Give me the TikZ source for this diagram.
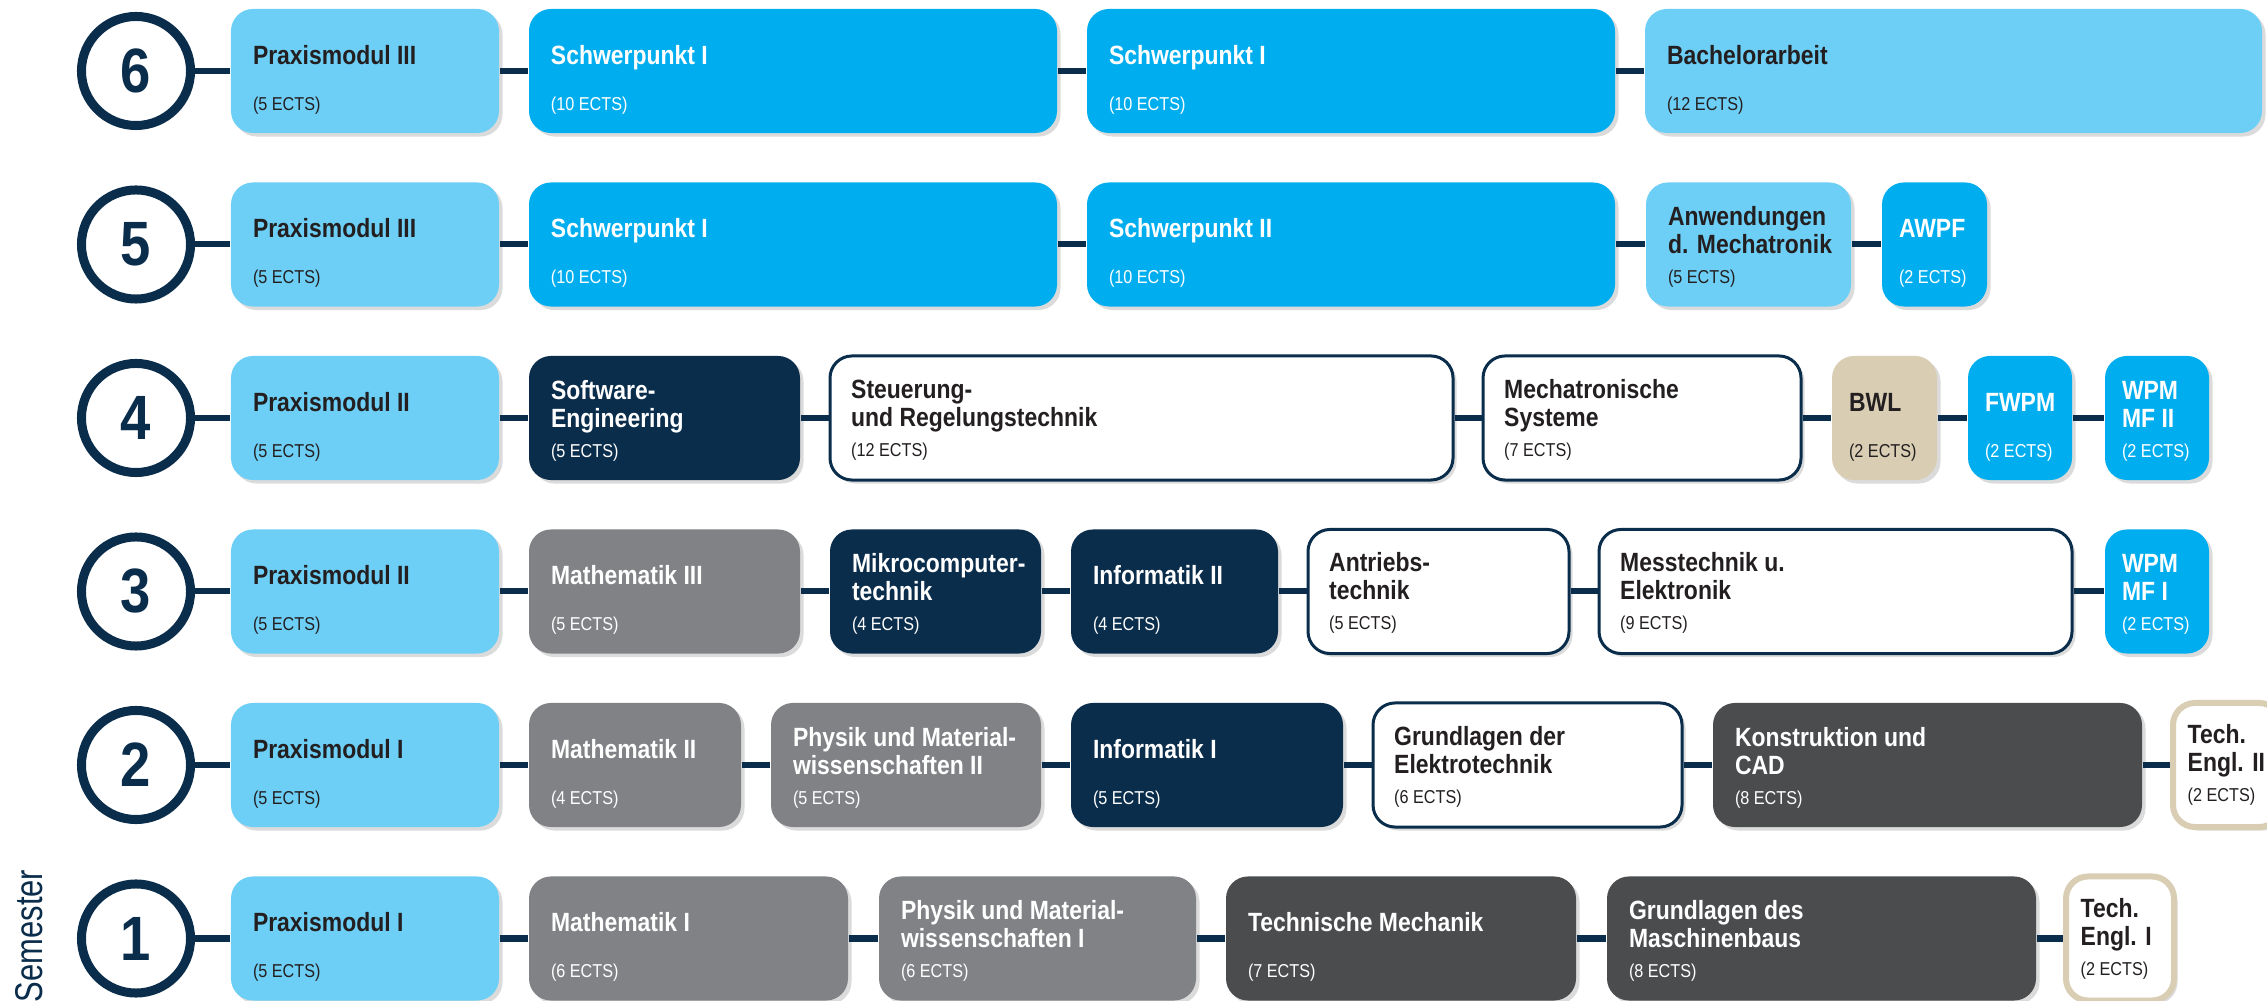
\documentclass[tikz,border=0pt]{standalone}
\usepackage{fontspec}
\setmainfont{Liberation Sans}[FakeStretch=0.87]
\newfontfamily\semfont{Liberation Sans}[FakeStretch=0.8]
\usetikzlibrary{calc,shadows}

\definecolor{hell}{HTML}{6DCFF6}
\definecolor{blau}{HTML}{00AEEF}
\definecolor{marine}{HTML}{0B2D4C}
\definecolor{grau}{HTML}{808285}
\definecolor{dunkel}{HTML}{4B4C4E}
\definecolor{sand}{HTML}{D9CEB4}
\definecolor{schrift}{HTML}{231F20}

\tikzset{
  schatten/.style={drop shadow={shadow xshift=0.035cm, shadow yshift=-0.035cm, fill=black!14, opacity=1}},
  box/.style={rectangle, rounded corners=0.22cm, inner sep=0pt, minimum height=1.24cm, schatten},
  modhell/.style={fill=hell},            modhell txt/.style={text=schrift},
  modblau/.style={fill=blau},            modblau txt/.style={text=white},
  modmarine/.style={fill=marine},        modmarine txt/.style={text=white},
  modgrau/.style={fill=grau},            modgrau txt/.style={text=white},
  moddunkel/.style={fill=dunkel},        moddunkel txt/.style={text=white},
  modsand/.style={fill=sand},            modsand txt/.style={text=schrift},
  modweiss/.style={fill=white, draw=marine, line width=0.03cm}, modweiss txt/.style={text=schrift},
  modengl/.style={fill=white, draw=sand, line width=0.06cm},    modengl txt/.style={text=schrift},
  titel/.style={anchor=base west, inner sep=0pt, align=left, font=\fontsize{7.5}{8}\selectfont\bfseries},
  ects/.style={anchor=base west, inner sep=0pt, font=\fontsize{5.3}{6}\selectfont},
  kreis/.style={circle, draw=marine, line width=0.09cm, fill=white, minimum size=1.09cm, inner sep=0pt,
    text=marine, font=\fontsize{17.8}{18}\selectfont\bfseries, schatten},
  verbinder/.style={draw=marine, line width=0.06cm},
  semester/.style={rotate=90, anchor=base east, inner sep=0pt, text=marine, font=\semfont\fontsize{11}{13}\selectfont}
}

% name, style, x left, x right, y top, title lines, title, ECTS
\newcommand\modul[8]{%
  \pgfmathsetmacro\modx{(#3+#4)/2}%
  \pgfmathsetmacro\modw{(#4-#3)*0.01}%
  \pgfmathsetmacro\modin{(#4-#3)<150 ? 17 : 22}%
  \pgfmathsetmacro\modtt{#6==1 ? 56 : 72}%
  \node[box, #2, minimum width=\modw cm] (#1) at (\modx, #5+62) {};
  \node[titel, #2 txt] (#1-t) at ($(#1.north west)+(\modin,\modtt)$) {#7};
  \node[ects, #2 txt] (#1-e) at ($(#1.north west)+(\modin,102)$) {(#8 ECTS)};
}

\begin{document}
\begin{tikzpicture}[x=0.01cm, y=-0.01cm]
\path[fill=white, use as bounding box] (0,0) rectangle (2267,1001);

\node[semester] (sem) at (42,869) {Semester};

% 6. Semester
\node[kreis] (c6) at (136,71) {6};
\modul{p6}{modhell}{231}{499}{9}{1}{Praxismodul III}{5}
\modul{s6a}{modblau}{529}{1057}{9}{1}{Schwerpunkt I}{10}
\modul{s6b}{modblau}{1087}{1615}{9}{1}{Schwerpunkt I}{10}
\modul{ba}{modhell}{1645}{2262}{9}{1}{Bachelorarbeit}{12}
\draw[verbinder] (c6) -- (p6) (p6) -- (s6a) (s6a) -- (s6b) (s6b) -- (ba);

% 5. Semester
\node[kreis] (c5) at (136,244.5) {5};
\modul{p5}{modhell}{231}{499}{182.5}{1}{Praxismodul III}{5}
\modul{s5a}{modblau}{529}{1057}{182.5}{1}{Schwerpunkt I}{10}
\modul{s5b}{modblau}{1087}{1615}{182.5}{1}{Schwerpunkt II}{10}
\modul{an}{modhell}{1646}{1851}{182.5}{2}{Anwendungen\\d. Mechatronik}{5}
\modul{awpf}{modblau}{1882}{1987}{182.5}{1}{AWPF}{2}
\draw[verbinder] (c5) -- (p5) (p5) -- (s5a) (s5a) -- (s5b) (s5b) -- (an) (an) -- (awpf);

% 4. Semester
\node[kreis] (c4) at (136,418) {4};
\modul{p4}{modhell}{231}{499}{356}{1}{Praxismodul II}{5}
\modul{se}{modmarine}{529}{800}{356}{2}{Software-\\Engineering}{5}
\modul{srt}{modweiss}{830}{1453}{356}{2}{Steuerung-\\und Regelungstechnik}{12}
\modul{ms}{modweiss}{1483}{1801}{356}{2}{Mechatronische\\Systeme}{7}
\modul{bwl}{modsand}{1832}{1937}{356}{1}{BWL}{2}
\modul{fwpm}{modblau}{1968}{2072}{356}{1}{FWPM}{2}
\modul{wpm2}{modblau}{2105}{2209}{356}{2}{WPM\\MF II}{2}
\draw[verbinder] (c4) -- (p4) (p4) -- (se) (se) -- (srt) (srt) -- (ms) (ms) -- (bwl) (bwl) -- (fwpm) (fwpm) -- (wpm2);

% 3. Semester
\node[kreis] (c3) at (136,591.5) {3};
\modul{p3}{modhell}{231}{499}{529.5}{1}{Praxismodul II}{5}
\modul{m3}{modgrau}{529}{800}{529.5}{1}{Mathematik III}{5}
\modul{mc}{modmarine}{830}{1041}{529.5}{2}{Mikrocomputer-\\technik}{4}
\modul{inf2}{modmarine}{1071}{1278}{529.5}{1}{Informatik II}{4}
\modul{at}{modweiss}{1308}{1569}{529.5}{2}{Antriebs-\\technik}{5}
\modul{mt}{modweiss}{1599}{2072}{529.5}{2}{Messtechnik u.\\Elektronik}{9}
\modul{wpm1}{modblau}{2105}{2209}{529.5}{2}{WPM\\MF I}{2}
\draw[verbinder] (c3) -- (p3) (p3) -- (m3) (m3) -- (mc) (mc) -- (inf2) (inf2) -- (at) (at) -- (mt) (mt) -- (wpm1);

% 2. Semester
\node[kreis] (c2) at (136,765) {2};
\modul{p2}{modhell}{231}{499}{703}{1}{Praxismodul I}{5}
\modul{m2}{modgrau}{529}{741}{703}{1}{Mathematik II}{4}
\modul{ph2}{modgrau}{771}{1041}{703}{2}{Physik und Material-\\wissenschaften II}{5}
\modul{inf1}{modmarine}{1071}{1343}{703}{1}{Informatik I}{5}
\modul{ge}{modweiss}{1373}{1682}{703}{2}{Grundlagen der\\Elektrotechnik}{6}
\modul{kc}{moddunkel}{1713}{2142}{703}{2}{Konstruktion und\\CAD}{8}
\modul{te2}{modengl}{2173}{2281}{703}{2}{Tech.\\Engl. II}{2}
\draw[verbinder] (c2) -- (p2) (p2) -- (m2) (m2) -- (ph2) (ph2) -- (inf1) (inf1) -- (ge) (ge) -- (kc) (kc) -- (te2);

% 1. Semester
\node[kreis] (c1) at (136,938.5) {1};
\modul{p1}{modhell}{231}{499}{876.5}{1}{Praxismodul I}{5}
\modul{m1}{modgrau}{529}{848}{876.5}{1}{Mathematik I}{6}
\modul{ph1}{modgrau}{879}{1196}{876.5}{2}{Physik und Material-\\wissenschaften I}{6}
\modul{tm}{moddunkel}{1226}{1576}{876.5}{1}{Technische Mechanik}{7}
\modul{gm}{moddunkel}{1607}{2036}{876.5}{2}{Grundlagen des\\Maschinenbaus}{8}
\modul{te1}{modengl}{2066}{2174}{876.5}{2}{Tech.\\Engl. I}{2}
\draw[verbinder] (c1) -- (p1) (p1) -- (m1) (m1) -- (ph1) (ph1) -- (tm) (tm) -- (gm) (gm) -- (te1);
\end{tikzpicture}
\end{document}
